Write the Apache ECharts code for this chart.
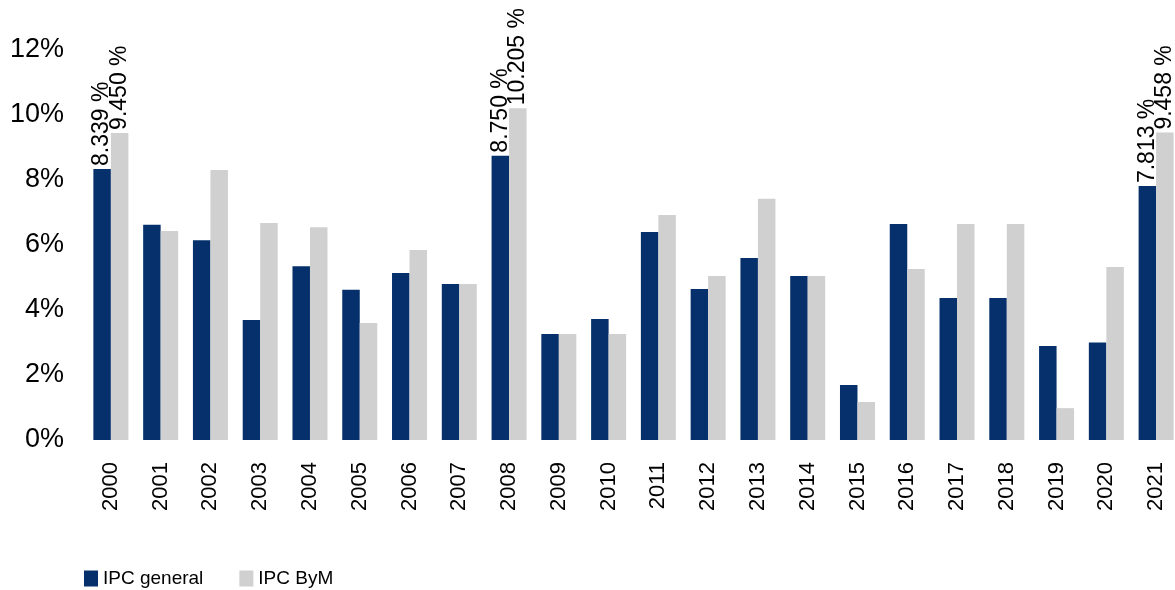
<!DOCTYPE html>
<html>
<head>
<meta charset="utf-8">
<script src="https://cdn.jsdelivr.net/npm/echarts@6/dist/echarts.min.js"></script>
<style>
html,body{margin:0;padding:0;background:#fff;overflow:hidden;width:1175px;height:590px;}
#chart{width:1181px;height:590px;}
</style>
</head>
<body>
<div id="chart"></div>
<script>
var years = ['2000','2001','2002','2003','2004','2005','2006','2007','2008','2009','2010','2011','2012','2013','2014','2015','2016','2017','2018','2019','2020','2021'];
var ipcGeneral = [8.339,6.62,6.15,3.69,5.35,4.62,5.14,4.80,8.750,3.26,3.72,6.40,4.65,5.60,5.05,1.69,6.65,4.37,4.37,2.89,3.00,7.813];
var ipcByM = [9.450,6.43,8.31,6.68,6.55,3.60,5.85,4.80,10.205,3.26,3.26,6.92,5.05,7.42,5.05,1.17,5.26,6.65,6.65,0.98,5.32,9.458];
var labeledYears = ['2000','2008','2021'];
var yTicks = [0,2,4,6,8,10,12];

var FONT = '"Liberation Sans", Arial, sans-serif';

function buildData(values){
  return values.map(function(v,i){
    return {
      value: v,
      label: {show: labeledYears.indexOf(years[i]) >= 0}
    };
  });
}

var labelStyle = {
  position: 'top',
  rotate: 90,
  align: 'left',
  verticalAlign: 'middle',
  distance: 3,
  fontFamily: FONT,
  fontSize: 23,
  color: '#000',
  formatter: function(p){ return p.value.toFixed(3) + ' %'; }
};

var chart = echarts.init(document.getElementById('chart'));
chart.setOption({
  animation: false,
  backgroundColor: '#fff',
  grid: {left: 86, right: 0, top: 50, bottom: 150, containLabel: false},
  legend: {
    left: 84,
    top: 569,
    padding: 0,
    itemWidth: 14,
    itemHeight: 16,
    itemGap: 36,
    icon: 'rect',
    textStyle: {fontFamily: FONT, fontSize: 19, color: '#000'},
    data: ['IPC general','IPC ByM']
  },
  xAxis: {
    type: 'category',
    data: years,
    axisLine: {show: false},
    axisTick: {show: false},
    axisLabel: {
      rotate: 90,
      margin: 22,
      fontFamily: FONT,
      fontSize: 22,
      color: '#000',
      interval: 0
    }
  },
  yAxis: {
    type: 'value',
    min: yTicks[0],
    max: yTicks[yTicks.length-1],
    interval: 2,
    splitLine: {show: false},
    axisLine: {show: false},
    axisTick: {show: false},
    axisLabel: {
      margin: 22,
      fontFamily: FONT,
      fontSize: 27,
      color: '#000',
      formatter: '{value}%'
    }
  },
  series: [
    {
      name: 'IPC general',
      type: 'bar',
      data: buildData(ipcGeneral),
      barWidth: 17.5,
      barGap: '0%',
      itemStyle: {color: '#06306B'},
      label: labelStyle
    },
    {
      name: 'IPC ByM',
      type: 'bar',
      data: buildData(ipcByM),
      barWidth: 17.5,
      barGap: '0%',
      itemStyle: {color: '#D0D0D0'},
      label: labelStyle
    }
  ]
});
</script>
</body>
</html>
